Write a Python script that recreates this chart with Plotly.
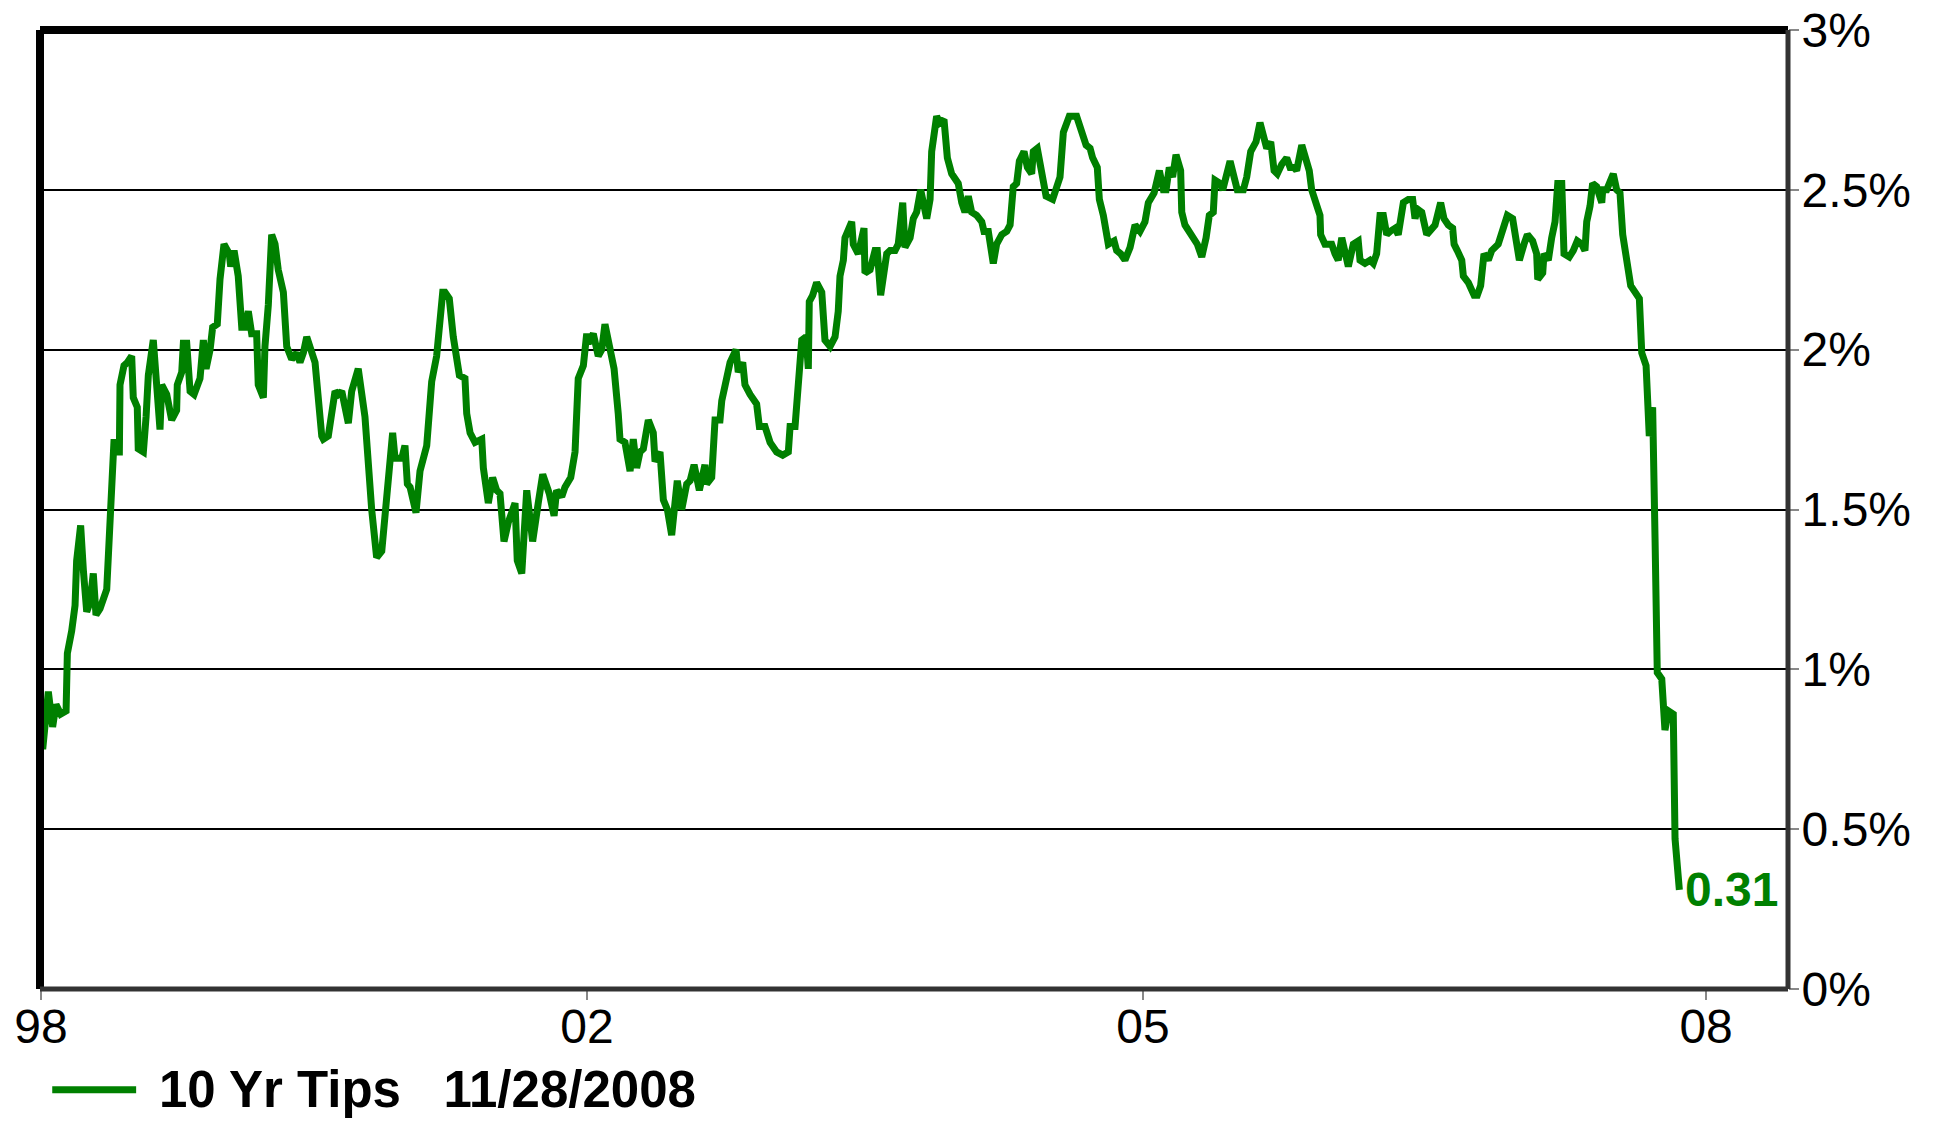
import plotly.graph_objects as go

# ---- data ----
dates = [
    1998.670, 1998.683, 1998.718, 1998.745, 1998.766, 1998.795, 1998.829, 1998.837, 1998.864, 1998.885,
    1998.895, 1998.920, 1998.937, 1998.958, 1998.979, 1998.999, 1999.016, 1999.041, 1999.083, 1999.104,
    1999.114, 1999.129, 1999.141, 1999.162, 1999.166, 1999.191, 1999.212, 1999.239, 1999.249, 1999.274,
    1999.280, 1999.312, 1999.329, 1999.343, 1999.374, 1999.391, 1999.416, 1999.427, 1999.458, 1999.489,
    1999.520, 1999.524, 1999.552, 1999.562, 1999.583, 1999.604, 1999.629, 1999.666, 1999.687, 1999.704,
    1999.729, 1999.745, 1999.774, 1999.791, 1999.816, 1999.849, 1999.858, 1999.879, 1999.905, 1999.927,
    1999.947, 1999.968, 1999.989, 2000.020, 2000.030, 2000.062, 2000.072, 2000.093, 2000.114, 2000.135,
    2000.155, 2000.187, 2000.208, 2000.239, 2000.270, 2000.291, 2000.312, 2000.333, 2000.364, 2000.385,
    2000.427, 2000.437, 2000.468, 2000.510, 2000.530, 2000.552, 2000.593, 2000.614, 2000.655, 2000.697,
    2000.739, 2000.770, 2000.802, 2000.843, 2000.870, 2000.885, 2000.927, 2000.947, 2000.962, 2000.979,
    2001.016, 2001.041, 2001.083, 2001.114, 2001.145, 2001.183, 2001.197, 2001.224, 2001.249, 2001.287,
    2001.322, 2001.333, 2001.354, 2001.385, 2001.427, 2001.437, 2001.468, 2001.495, 2001.520, 2001.541,
    2001.566, 2001.593, 2001.635, 2001.649, 2001.677, 2001.708, 2001.745, 2001.780, 2001.808, 2001.849,
    2001.879, 2001.895, 2001.927, 2001.947, 2001.983, 2002.010, 2002.030, 2002.062, 2002.083, 2002.093,
    2002.124, 2002.155, 2002.177, 2002.197, 2002.224, 2002.254, 2002.280, 2002.291, 2002.322, 2002.354,
    2002.374, 2002.395, 2002.416, 2002.437, 2002.468, 2002.499, 2002.510, 2002.541, 2002.562, 2002.587,
    2002.614, 2002.649, 2002.677, 2002.708, 2002.729, 2002.754, 2002.787, 2002.822, 2002.833, 2002.864,
    2002.885, 2002.916, 2002.927, 2002.979, 2003.016, 2003.030, 2003.058, 2003.072, 2003.104, 2003.145,
    2003.162, 2003.197, 2003.229, 2003.270, 2003.308, 2003.343, 2003.354, 2003.385, 2003.427, 2003.454,
    2003.468, 2003.474, 2003.495, 2003.520, 2003.552, 2003.572, 2003.604, 2003.635, 2003.655, 2003.666,
    2003.687, 2003.697, 2003.739, 2003.749, 2003.780, 2003.816, 2003.822, 2003.854, 2003.885, 2003.899,
    2003.920, 2003.937, 2003.958, 2003.979, 2004.010, 2004.030, 2004.058, 2004.072, 2004.104, 2004.124,
    2004.145, 2004.170, 2004.187, 2004.208, 2004.229, 2004.239, 2004.270, 2004.291, 2004.316, 2004.337,
    2004.364, 2004.405, 2004.427, 2004.447, 2004.468, 2004.489, 2004.520, 2004.552, 2004.566, 2004.593,
    2004.624, 2004.645, 2004.677, 2004.708, 2004.729, 2004.749, 2004.770, 2004.787, 2004.816, 2004.837,
    2004.864, 2004.874, 2004.899, 2004.920, 2004.954, 2004.995, 2005.041, 2005.062, 2005.099, 2005.145,
    2005.170, 2005.204, 2005.229, 2005.245, 2005.274, 2005.287, 2005.312, 2005.343, 2005.379, 2005.395,
    2005.420, 2005.447, 2005.479, 2005.510, 2005.541, 2005.572, 2005.593, 2005.629, 2005.662, 2005.687,
    2005.704, 2005.724, 2005.745, 2005.766, 2005.795, 2005.802, 2005.822, 2005.849, 2005.874, 2005.899,
    2005.927, 2005.954, 2005.974, 2005.999, 2006.010, 2006.041, 2006.058, 2006.083, 2006.104, 2006.129,
    2006.149, 2006.187, 2006.208, 2006.233, 2006.266, 2006.291, 2006.316, 2006.333, 2006.358, 2006.379,
    2006.399, 2006.427, 2006.458, 2006.479, 2006.504, 2006.520, 2006.552, 2006.579, 2006.599, 2006.614,
    2006.641, 2006.666, 2006.670, 2006.697, 2006.712, 2006.739, 2006.760, 2006.780, 2006.802, 2006.822,
    2006.843, 2006.874, 2006.905, 2006.916, 2006.947, 2006.979, 2006.999, 2007.020, 2007.041, 2007.062,
    2007.083, 2007.104, 2007.135, 2007.155, 2007.187, 2007.218, 2007.245, 2007.260, 2007.274, 2007.302,
    2007.333, 2007.385, 2007.420, 2007.441, 2007.468, 2007.495, 2007.504, 2007.524, 2007.552, 2007.562,
    2007.593, 2007.629, 2007.649, 2007.670, 2007.691, 2007.718, 2007.739, 2007.780, 2007.808, 2007.837,
    2007.870, 2007.912, 2007.941, 2007.962, 2007.995, 2008.020, 2008.027, 2008.058, 2008.066, 2008.093,
    2008.114, 2008.135, 2008.152, 2008.177, 2008.191, 2008.224, 2008.249, 2008.274, 2008.302, 2008.322,
    2008.333, 2008.354, 2008.370, 2008.395, 2008.427, 2008.433, 2008.458, 2008.474, 2008.499, 2008.520,
    2008.541, 2008.558, 2008.593, 2008.608, 2008.635, 2008.662, 2008.677, 2008.704, 2008.724, 2008.745,
    2008.760, 2008.774, 2008.802, 2008.822, 2008.843, 2008.874, 2008.885, 2008.912,
]

tips_10yr = [
    0.88, 0.75, 0.93, 0.82, 0.89, 0.86, 0.87, 1.05, 1.12, 1.20,
    1.34, 1.45, 1.31, 1.18, 1.21, 1.30, 1.17, 1.19, 1.25, 1.50,
    1.66, 1.72, 1.68, 1.68, 1.89, 1.95, 1.96, 1.98, 1.85, 1.82,
    1.69, 1.68, 1.79, 1.92, 2.03, 1.88, 1.75, 1.89, 1.86, 1.78,
    1.81, 1.89, 1.93, 2.02, 2.02, 1.87, 1.86, 1.91, 2.03, 1.94,
    2.00, 2.07, 2.08, 2.22, 2.33, 2.30, 2.26, 2.31, 2.23, 2.07,
    2.07, 2.12, 2.05, 2.05, 1.89, 1.85, 2.01, 2.14, 2.36, 2.33,
    2.25, 2.18, 2.01, 1.97, 1.99, 1.96, 1.99, 2.04, 1.99, 1.96,
    1.73, 1.72, 1.73, 1.87, 1.86, 1.87, 1.77, 1.87, 1.94, 1.79,
    1.50, 1.35, 1.37, 1.60, 1.74, 1.66, 1.66, 1.70, 1.58, 1.57,
    1.49, 1.62, 1.70, 1.90, 1.98, 2.18, 2.18, 2.16, 2.04, 1.92,
    1.91, 1.80, 1.74, 1.71, 1.72, 1.63, 1.52, 1.60, 1.56, 1.55,
    1.40, 1.46, 1.52, 1.34, 1.30, 1.56, 1.40, 1.52, 1.61, 1.55,
    1.48, 1.56, 1.54, 1.57, 1.60, 1.68, 1.91, 1.95, 2.05, 2.02,
    2.05, 1.98, 2.00, 2.08, 2.02, 1.94, 1.80, 1.72, 1.71, 1.62,
    1.72, 1.63, 1.68, 1.69, 1.78, 1.74, 1.65, 1.68, 1.53, 1.50,
    1.42, 1.59, 1.50, 1.58, 1.59, 1.64, 1.56, 1.64, 1.58, 1.60,
    1.78, 1.78, 1.84, 1.96, 2.00, 1.93, 1.96, 1.89, 1.86, 1.83,
    1.76, 1.76, 1.71, 1.68, 1.67, 1.68, 1.76, 1.76, 2.03, 2.04,
    1.94, 2.15, 2.17, 2.21, 2.18, 2.03, 2.01, 2.04, 2.12, 2.23,
    2.28, 2.35, 2.40, 2.33, 2.30, 2.38, 2.24, 2.25, 2.31, 2.31,
    2.17, 2.24, 2.30, 2.31, 2.31, 2.33, 2.46, 2.32, 2.35, 2.41,
    2.43, 2.50, 2.46, 2.41, 2.47, 2.62, 2.73, 2.71, 2.72, 2.60,
    2.55, 2.52, 2.46, 2.43, 2.48, 2.43, 2.42, 2.40, 2.37, 2.37,
    2.27, 2.33, 2.36, 2.37, 2.39, 2.51, 2.52, 2.59, 2.62, 2.57,
    2.55, 2.62, 2.63, 2.57, 2.48, 2.47, 2.54, 2.68, 2.73, 2.73,
    2.69, 2.64, 2.63, 2.60, 2.57, 2.47, 2.42, 2.33, 2.34, 2.31,
    2.30, 2.28, 2.32, 2.39, 2.37, 2.40, 2.46, 2.49, 2.56, 2.50,
    2.50, 2.57, 2.54, 2.61, 2.56, 2.43, 2.39, 2.37, 2.35, 2.33,
    2.29, 2.35, 2.42, 2.43, 2.53, 2.52, 2.50, 2.54, 2.59, 2.54,
    2.50, 2.50, 2.54, 2.62, 2.65, 2.71, 2.66, 2.63, 2.65, 2.56,
    2.55, 2.58, 2.60, 2.57, 2.57, 2.56, 2.64, 2.59, 2.56, 2.50,
    2.45, 2.42, 2.36, 2.33, 2.33, 2.33, 2.30, 2.28, 2.35, 2.29,
    2.26, 2.33, 2.34, 2.28, 2.27, 2.28, 2.27, 2.30, 2.42, 2.42,
    2.36, 2.37, 2.38, 2.36, 2.46, 2.47, 2.47, 2.41, 2.44, 2.43,
    2.36, 2.39, 2.46, 2.41, 2.39, 2.38, 2.33, 2.31, 2.28, 2.23,
    2.21, 2.17, 2.17, 2.20, 2.30, 2.28, 2.31, 2.33, 2.37, 2.42,
    2.41, 2.28, 2.33, 2.36, 2.34, 2.30, 2.22, 2.24, 2.30, 2.28,
    2.35, 2.40, 2.52, 2.52, 2.30, 2.29, 2.31, 2.34, 2.33, 2.31,
    2.40, 2.45, 2.52, 2.51, 2.46, 2.50, 2.50, 2.52, 2.55, 2.50,
    2.49, 2.36, 2.25, 2.20, 2.18, 2.16, 1.99, 1.95, 1.73, 1.82,
    1.41, 0.99, 0.97, 0.81, 0.87, 0.86, 0.47, 0.31,
]

series_name = "10 Yr Tips"
as_of_date = "11/28/2008"

x_tick_positions = [1998.672, 2002.085, 2005.560, 2009.079]
x_tick_labels = ["98", "02", "05", "08"]
y_tick_values = [0, 0.5, 1, 1.5, 2, 2.5, 3]
y_tick_labels = ["0%", "0.5%", "1%", "1.5%", "2%", "2.5%", "3%"]

GREEN = "#008000"
FONT = "Liberation Sans, Arial, sans-serif"

fig = go.Figure()
fig.add_trace(go.Scatter(
    x=dates, y=tips_10yr, mode="lines", name=series_name,
    line=dict(color=GREEN, width=7),
    showlegend=False,
))

# last value label
fig.add_annotation(
    x=dates[-1], y=tips_10yr[-1], xref="x", yref="y",
    text=f"<b>{tips_10yr[-1]:.2f}</b>", showarrow=False,
    xanchor="left", yanchor="middle", xshift=4,
    font=dict(family=FONT, size=48, color=GREEN),
)

# legend (manual, to match long key line)
fig.add_shape(type="line", xref="paper", yref="paper",
              x0=0.007, x1=0.055, y0=-0.105, y1=-0.105,
              line=dict(color=GREEN, width=7))
fig.add_annotation(
    x=0.067, y=-0.105, xref="paper", yref="paper",
    text=f"<b>{series_name}&nbsp;&nbsp;&nbsp;{as_of_date}</b>",
    showarrow=False, xanchor="left", yanchor="middle",
    font=dict(family=FONT, size=51, color="black"),
)

# frame
fig.add_shape(type="line", xref="paper", yref="paper", x0=0, x1=1, y0=1, y1=1,
              line=dict(color="black", width=8), layer="above")
fig.add_shape(type="line", xref="paper", yref="paper", x0=0, x1=0, y0=0, y1=1,
              line=dict(color="black", width=8), layer="above")
fig.add_shape(type="line", xref="paper", yref="paper", x0=1, x1=1, y0=0, y1=1,
              line=dict(color="#333333", width=5), layer="above")
fig.add_shape(type="line", xref="paper", yref="paper", x0=0, x1=1, y0=0, y1=0,
              line=dict(color="#333333", width=5), layer="above")

fig.update_layout(
    width=1938, height=1125,
    margin=dict(l=40, r=150, t=30, b=136, autoexpand=False),
    paper_bgcolor="white", plot_bgcolor="white",
    font=dict(family=FONT, color="black"),
    showlegend=False,
    xaxis=dict(
        range=[1998.666, 2009.591], automargin=False,
        tickmode="array", tickvals=x_tick_positions, ticktext=x_tick_labels,
        showgrid=False, zeroline=False, showline=False,
        ticks="outside", ticklen=10, tickwidth=2, tickcolor="#888888",
        ticklabelstandoff=-15, ticklabeloverflow="allow",
        tickfont=dict(size=48, color="black", family=FONT),
    ),
    yaxis=dict(
        side="right", range=[0, 3], automargin=False,
        tickmode="array", tickvals=y_tick_values, ticktext=y_tick_labels,
        showgrid=True, gridcolor="black", gridwidth=1.5,
        zeroline=False, showline=False,
        ticks="outside", ticklen=10, tickwidth=2, tickcolor="#888888",
        ticklabelstandoff=-7, ticklabeloverflow="allow",
        tickfont=dict(size=48, color="black", family=FONT),
    ),
)

# remove the page's default 8px body margin so the figure fills the window
fig.write_html("out.html", config={"displayModeBar": False},
               post_script="document.body.style.margin='0';")
